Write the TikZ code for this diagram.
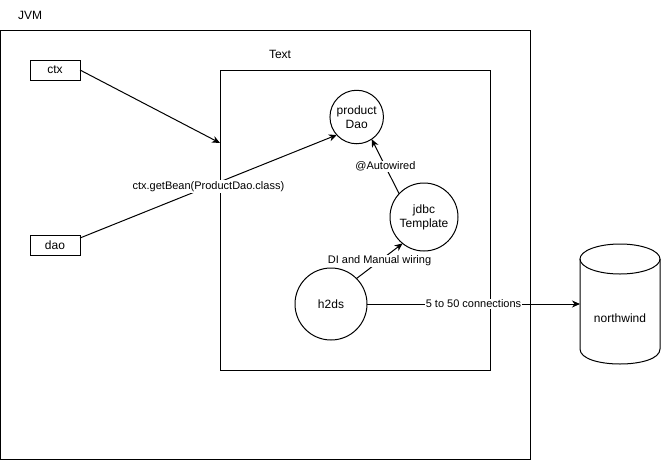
\documentclass[tikz,border=0pt]{standalone}
\usepackage{fontspec}
\setmainfont{Liberation Sans}
\usetikzlibrary{arrows.meta}
\begin{document}
\begin{tikzpicture}[x=1pt,y=-1pt,line width=1pt,
  every node/.style={font=\fontsize{12}{14}\selectfont, inner sep=0pt, outer sep=0pt},
  boxn/.style={draw, minimum width=50pt, minimum height=20pt},
  frame/.style={draw},
  circ/.style={draw, circle, align=center},
  lbl/.style={fill=white, font=\fontsize{11}{13}\selectfont, inner sep=1pt},
  arr/.style={-{Stealth[length=8pt,width=7pt,inset=2.5pt]}}]
\useasboundingbox (0,0) rectangle (661,461);
% frames
\node[frame, minimum width=529.5pt, minimum height=429.5pt] (jvm) at (265.25,244.75) {};
\node (jvmlbl) at (30,15) {JVM};
\node[frame, minimum width=270pt, minimum height=300pt] (inner) at (355.5,220) {};
\node (txtlbl) at (280,54) {Text};
% boxes
\node[boxn] (ctx) at (55,70) {ctx};
\node[boxn] (dao) at (55,245) {dao};
% circles
\node[circ, minimum size=53.5pt] (pd) at (356.7,117) {product\\Dao};
\node[circ, minimum size=68pt] (jd) at (424,217) {jdbc\\Template};
\node[circ, minimum size=72pt] (h2) at (331,304) {h2ds};
% cylinder
\node[minimum width=80pt, minimum height=120pt] (nw) at (620,304) {};
\draw (620,259) ellipse [x radius=40pt, y radius=15pt];
\draw (580,259) -- (580,349) .. controls (580,369) and (660,369) .. (660,349) -- (660,259);
\node (nwlbl) at (620,318) {northwind};
% connectors
\coordinate (ce) at (220,143);
\draw[arr] (ctx.east) -- (ce);
\draw[arr] ([yshift=7pt]dao.east) -- node[lbl, pos=0.5] {ctx.getBean(ProductDao.class)} (pd.222);
\draw[arr] (jd.137) -- node[lbl, pos=0.5] {@Autowired} (pd.-56);
\draw[arr] (h2.45) -- node[lbl, pos=0.5] {DI and Manual wiring} (jd.231);
\draw[arr] (h2.east) -- node[lbl, pos=0.5] {5 to 50 connections} (nw.west);
\end{tikzpicture}
\end{document}
